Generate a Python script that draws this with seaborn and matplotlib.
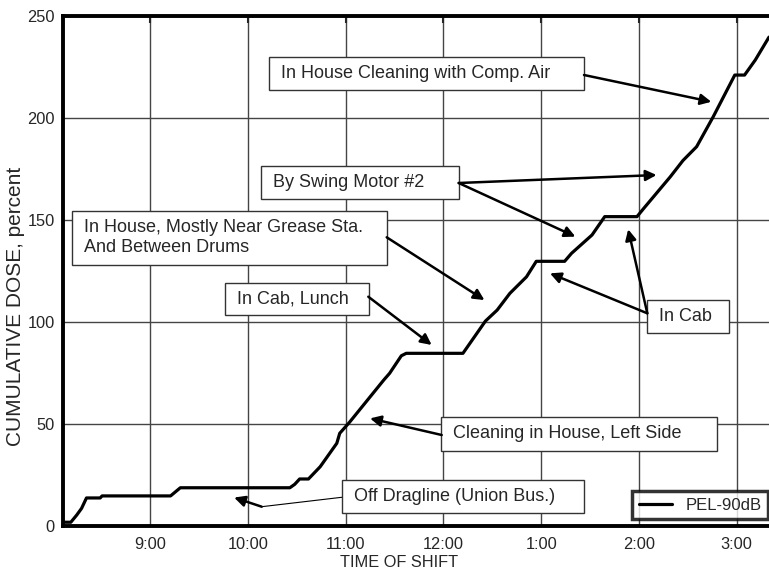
import matplotlib
matplotlib.use("Agg")
import matplotlib.pyplot as plt
from matplotlib.patches import Rectangle
import seaborn as sns

# ============ DATA ============
# time of shift in decimal hours (24h), cumulative dose in percent
hours = [8.11, 8.19, 8.25, 8.30, 8.35, 8.49, 8.51, 9.21, 9.31, 10.43, 10.48,
         10.53, 10.62, 10.74, 10.91, 10.94, 11.04, 11.39, 11.45, 11.57, 11.62,
         12.20, 12.43, 12.55, 12.68, 12.85, 12.95, 13.24, 13.31, 13.52, 13.65,
         13.98, 14.05, 14.32, 14.45, 14.59, 14.76, 14.98, 15.08, 15.19, 15.33]
dose = [1.7, 1.7, 5.2, 8.5, 13.6, 13.6, 14.6, 14.6, 18.6, 18.6, 20.3,
        22.9, 22.9, 28.9, 40.4, 45.3, 50.7, 71.4, 74.7, 83.3, 84.5,
        84.5, 100.3, 105.7, 113.9, 122.0, 129.6, 129.6, 133.5, 142.5, 151.5,
        151.5, 155.6, 171.0, 179.0, 185.8, 200.5, 220.9, 220.9, 228.3, 239.5]
series_name = "PEL-90dB"

tick_hours = [9, 10, 11, 12, 13, 14, 15]
tick_labels = ["9:00", "10:00", "11:00", "12:00", "1:00", "2:00", "3:00"]
y_ticks = [0, 50, 100, 150, 200, 250]

# annotation text, box (ref pixels x0, y0, x1, y1), arrow start (ref px), arrow tips (data)
notes = [
    ("In House Cleaning with Comp. Air", (269, 57, 584, 90), (584, 75), [(14.74, 207.8)]),
    ("By Swing Motor #2", (260.7, 165.7, 458.7, 199), (458.7, 183), [(14.18, 171.9), (13.35, 141.7)]),
    ("In House, Mostly Near Grease Sta.\nAnd Between Drums", (71.7, 210.7, 386.7, 265), (386.7, 237.3), [(12.42, 110.6)]),
    ("In Cab, Lunch", (225, 282.7, 369, 315), (368.3, 296.7), [(11.88, 88.6)]),
    ("In Cab", (647.3, 300, 729, 333.3), (647.3, 313.3), [(13.09, 123.7), (13.89, 145.3)]),
    ("Cleaning in House, Left Side", (440.7, 417.3, 716.7, 450.7), (441.7, 435), [(11.25, 52.6)]),
    ("Off Dragline (Union Bus.)", (341.7, 480, 584.3, 513.3), (261.7, 506.7), [(9.86, 13.8)]),
]
# ==============================

# reference pixel geometry of the axes
AX_L, AX_R, AX_T, AX_B = 63, 769, 15.7, 525.7
W, H = 769, 575


def px(x, y):
    return ((x - AX_L) / (AX_R - AX_L), (AX_B - y) / (AX_B - AX_T))


sns.set_style("white")
plt.rcParams['font.family'] = ['Liberation Sans', 'DejaVu Sans']

fig = plt.figure(figsize=(W / 100, H / 100), dpi=100)
ax = fig.add_axes([AX_L / W, 1 - AX_B / H, (AX_R - AX_L) / W, (AX_B - AX_T) / H])

sns.lineplot(x=hours, y=dose, ax=ax, color="black", linewidth=2.3,
             label=series_name, zorder=4)

ax.set_xlim(8.11, 15.33)
ax.set_ylim(0, 250)
ax.set_xticks(tick_hours)
ax.set_xticklabels(tick_labels)
ax.set_yticks(y_ticks)
ax.grid(True, color="#444444", linewidth=1.0)
ax.set_axisbelow(True)

for side in ["left", "bottom", "top"]:
    ax.spines[side].set_linewidth(2.8)
    ax.spines[side].set_color("black")
ax.spines["right"].set_visible(False)

ax.tick_params(axis="x", direction="in", length=5, width=1.5, top=True,
               labelsize=11.8, pad=8)
ax.tick_params(axis="y", direction="out", length=4, width=2, labelsize=11.8, pad=2)

ax.set_xlabel("TIME OF SHIFT", fontsize=11.8)
ax.set_ylabel("CUMULATIVE DOSE, percent", fontsize=15)
ax.xaxis.set_label_coords(*px(399, 555))
ax.yaxis.set_label_coords(*px(25, 306))

for text, box, start, tips in notes:
    x0, y0 = px(box[0], box[3])
    x1, y1 = px(box[2], box[1])
    ax.add_patch(Rectangle((x0, y0), x1 - x0, y1 - y0, transform=ax.transAxes,
                           facecolor="white", edgecolor="#333333", linewidth=1.0,
                           zorder=5, clip_on=False))
    tx, ty = px(box[0] + 12, (box[1] + box[3]) / 2)
    ax.text(tx, ty, text, transform=ax.transAxes, ha="left", va="center",
            fontsize=13, linespacing=1.25, zorder=6)
    sx, sy = px(*start)
    for tip in tips:
        ax.annotate("", xy=tip, xycoords="data", xytext=(sx, sy),
                    textcoords="axes fraction",
                    arrowprops=dict(arrowstyle="-|>", color="black", lw=1.8,
                                    mutation_scale=16, shrinkA=0, shrinkB=0),
                    zorder=6)

# thin leader from the "Off Dragline" box to its arrow
lx0, ly0 = px(341.7, 497.3)
lx1, ly1 = px(261.7, 506.7)
ax.plot([lx0, lx1], [ly0, ly1], transform=ax.transAxes, color="black",
        linewidth=0.8, zorder=6)

leg = ax.legend(loc="lower right", bbox_to_anchor=px(768.3, 519.3), fontsize=12,
                frameon=True, fancybox=False, handlelength=2.0, borderpad=0.4,
                borderaxespad=0, handletextpad=0.8)
leg.get_frame().set_edgecolor("black")
leg.get_frame().set_linewidth(2.5)
leg.set_zorder(7)

fig.savefig("out.png", dpi=100)
